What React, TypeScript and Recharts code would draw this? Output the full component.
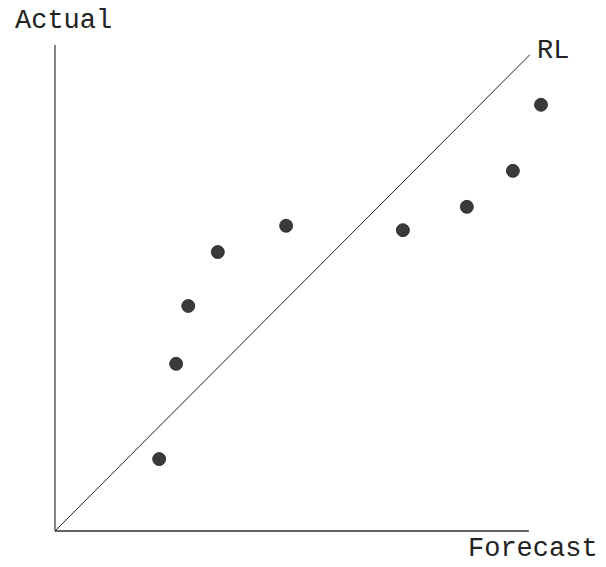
import { ScatterChart, Scatter, XAxis, YAxis, ReferenceLine } from 'recharts';

const forecast = [21.5, 25.0, 27.5, 33.6, 47.7, 71.8, 85.0, 94.5, 100.3];
const actual = [14.8, 34.4, 46.3, 57.4, 62.8, 61.9, 66.7, 74.1, 87.7];
const points = forecast.map((f, i) => ({ f, a: actual[i] }));

const rlEnd = 98;
const xAxisEnd = 97.8;
const yAxisTop = 100;

const font = '"Liberation Mono", "DejaVu Sans Mono", monospace';
const ink = '#333';

const Dot = (p: any) => <circle cx={p.cx} cy={p.cy} r={6.5} fill="#3a3a3a" stroke="#222" strokeWidth={0.8} />;

export default function App() {
  return (
    <div style={{ position: 'absolute', left: 0, top: 0, width: 606, height: 567, overflow: 'hidden', background: '#fff' }}>
      <ScatterChart width={606} height={567} margin={{ left: 55, right: 18, top: 45, bottom: 36 }}>
        <XAxis type="number" dataKey="f" domain={[0, 110]} hide />
        <YAxis type="number" dataKey="a" domain={[0, 100]} hide />
        <ReferenceLine segment={[{ x: 0, y: 0 }, { x: 0, y: yAxisTop }]} stroke={ink} strokeWidth={1.2} ifOverflow="visible" />
        <ReferenceLine segment={[{ x: 0, y: 0 }, { x: xAxisEnd, y: 0 }]} stroke={ink} strokeWidth={1.4} ifOverflow="visible" />
        <ReferenceLine segment={[{ x: 0, y: 0 }, { x: rlEnd, y: rlEnd }]} stroke="#222" strokeWidth={1} ifOverflow="visible" />
        <Scatter data={points} shape={Dot} isAnimationActive={false} />
      </ScatterChart>
      <svg width={606} height={567} style={{ position: 'absolute', left: 0, top: 0, pointerEvents: 'none' }}>
        <g fontFamily={font} fontSize={27} fill="#222">
          <text x={15} y={28}>Actual</text>
          <text x={537} y={58}>RL</text>
          <text x={468} y={556}>Forecast</text>
        </g>
      </svg>
    </div>
  );
}
